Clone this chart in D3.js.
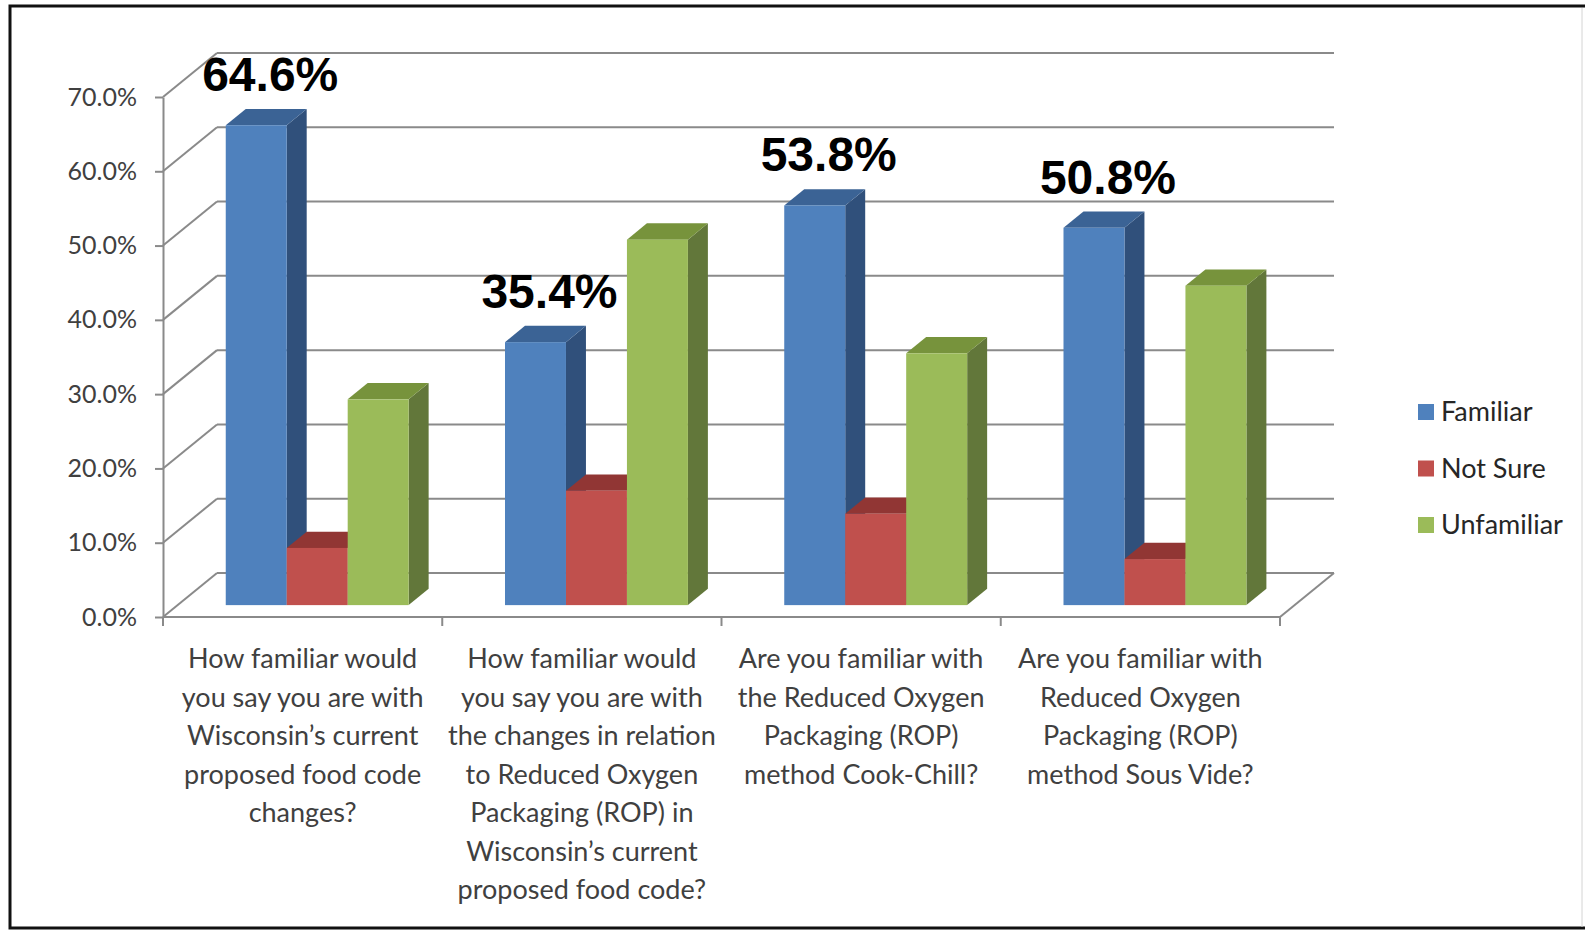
<!DOCTYPE html>
<html>
<head>
<meta charset="utf-8">
<script src="https://cdn.jsdelivr.net/npm/d3@7"></script>
<style>
  body { margin: 0; background: #fff; }
  svg { display: block; }
  .tick-label, .cat-label, .legend-label { font-family: Lato, "Open Sans", sans-serif; }
  .value-label { font-family: "Liberation Sans", Arial, sans-serif; font-weight: bold; }
</style>
</head>
<body>
<div id="chart"></div>
<script>

// Survey questions (category labels, already wrapped)
var categories = ['q1', 'q2', 'q3', 'q4'];
var categoryLines = [
  ['How familiar would', 'you say you are with', 'Wisconsin\u2019s current', 'proposed food code', 'changes?'],
  ['How familiar would', 'you say you are with', 'the changes in relation', 'to Reduced Oxygen', 'Packaging (ROP) in', 'Wisconsin\u2019s current', 'proposed food code?'],
  ['Are you familiar with', 'the Reduced Oxygen', 'Packaging (ROP)', 'method Cook-Chill?'],
  ['Are you familiar with', 'Reduced Oxygen', 'Packaging (ROP)', 'method Sous Vide?']
];

var seriesNames = ['Familiar', 'Not Sure', 'Unfamiliar'];
var familiar = [64.6, 35.4, 53.8, 50.8];
var notSure = [7.7, 15.4, 12.3, 6.2];
var unfamiliar = [27.7, 49.2, 33.9, 43.0];
var yTicks = [0, 10, 20, 30, 40, 50, 60, 70];

var frontColor = ['#4F81BD', '#C0504D', '#9BBB59'];
var topColor = ['#3B6395', '#913634', '#77933C'];
var sideColor = ['#30507B', '#8A3634', '#62773A'];

var width = 1585,
    height = 932;

var svg = d3.select('#chart')
            .append('svg')
            .attr('width', width)
            .attr('height', height);

// frame
svg.append('rect')
   .attr('x', 0).attr('y', 0)
   .attr('width', width).attr('height', height)
   .attr('fill', '#fff');

svg.append('path')
   .attr('d', 'M1585,6 L10,6 L10,928 L1585,928')
   .attr('fill', 'none')
   .attr('stroke', '#111')
   .attr('stroke-width', 3);

svg.append('line')
   .attr('x1', 1582).attr('x2', 1582)
   .attr('y1', 8).attr('y2', 927)
   .attr('stroke', '#d4d4d4')
   .attr('stroke-width', 1);

// 3d depth of the plot box
var depthX = 54,
    depthY = -44;
var barFront = 0.27,
    barBack = 0.64;

var y = d3.scaleLinear()
          .domain([0, 70])
          .range([617, 97]);

var x0 = d3.scaleBand()
           .domain(categories)
           .range([163, 1280]);

var x1 = d3.scaleBand()
           .domain(seriesNames)
           .range([0, x0.bandwidth()])
           .paddingOuter(0.79);

var gridColor = '#8a8a8a';

// side wall diagonals and back wall gridlines
var grid = svg.append('g');

grid.selectAll('.diag')
    .data(yTicks)
    .enter().append('line')
    .attr('x1', x0.range()[0])
    .attr('y1', function(d) { return y(d); })
    .attr('x2', x0.range()[0] + depthX)
    .attr('y2', function(d) { return y(d) + depthY; })
    .attr('stroke', gridColor)
    .attr('stroke-width', 2);

grid.selectAll('.back')
    .data(yTicks)
    .enter().append('line')
    .attr('x1', x0.range()[0] + depthX)
    .attr('y1', function(d) { return y(d) + depthY; })
    .attr('x2', x0.range()[1] + depthX)
    .attr('y2', function(d) { return y(d) + depthY; })
    .attr('stroke', gridColor)
    .attr('stroke-width', 2);

// right edge of floor
grid.append('line')
    .attr('x1', x0.range()[1])
    .attr('y1', y(0))
    .attr('x2', x0.range()[1] + depthX)
    .attr('y2', y(0) + depthY)
    .attr('stroke', gridColor)
    .attr('stroke-width', 2);

// y axis
var y_axis = d3.axisLeft(y)
               .tickValues(yTicks)
               .tickFormat(function(d) { return d.toFixed(1) + '%'; })
               .tickSizeInner(8)
               .tickSizeOuter(0)
               .tickPadding(18);

var gy = svg.append('g')
            .attr('transform', 'translate(' + x0.range()[0] + ',0)')
            .call(y_axis);

gy.select('.domain').attr('stroke', gridColor).attr('stroke-width', 2);
gy.selectAll('.tick line').attr('stroke', gridColor).attr('stroke-width', 2);
gy.selectAll('.tick text')
  .attr('class', 'tick-label')
  .attr('fill', '#404040')
  .style('font-size', '25px');

// x axis: front floor edge with ticks at category boundaries
var boundaries = categories.map(function(c) { return x0(c); }).concat([x0.range()[1]]);

svg.append('line')
   .attr('x1', x0.range()[0]).attr('x2', x0.range()[1])
   .attr('y1', y(0)).attr('y2', y(0))
   .attr('stroke', gridColor)
   .attr('stroke-width', 2);

svg.selectAll('.xtick')
   .data(boundaries)
   .enter().append('line')
   .attr('x1', function(d) { return d; })
   .attr('x2', function(d) { return d; })
   .attr('y1', y(0))
   .attr('y2', y(0) + 9)
   .attr('stroke', gridColor)
   .attr('stroke-width', 2);

// category labels
var catLabels = svg.selectAll('.cat-label')
   .data(categories)
   .enter().append('text')
   .attr('class', 'cat-label')
   .attr('text-anchor', 'middle')
   .attr('fill', '#404040')
   .style('font-size', '27px');

catLabels.each(function(c, i) {
  var t = d3.select(this);
  categoryLines[i].forEach(function(line, j) {
    t.append('tspan')
     .attr('x', x0(c) + x0.bandwidth() / 2)
     .attr('y', y(0) + 51 + j * 38.5)
     .text(line);
  });
});

// bars
var values = [familiar, notSure, unfamiliar];
var fx = barFront * depthX,
    fy = barFront * depthY,
    bx = (barBack - barFront) * depthX,
    by = (barBack - barFront) * depthY;

var bars = [];
categories.forEach(function(c, i) {
  seriesNames.forEach(function(s, k) {
    bars.push({cat: c, series: s, k: k, value: values[k][i]});
  });
});

var barG = svg.selectAll('.bar')
              .data(bars)
              .enter().append('g')
              .attr('class', 'bar');

barG.each(function(d) {
  var g = d3.select(this);
  var left = x0(d.cat) + x1(d.series) + fx,
      right = left + x1.bandwidth(),
      top = y(d.value) + fy,
      bottom = y(0) + fy;

  g.append('polygon')
   .attr('points', [[right, top], [right + bx, top + by], [right + bx, bottom + by], [right, bottom]].join(' '))
   .attr('fill', sideColor[d.k]);

  g.append('polygon')
   .attr('points', [[left, top], [left + bx, top + by], [right + bx, top + by], [right, top]].join(' '))
   .attr('fill', topColor[d.k]);

  g.append('rect')
   .attr('x', left)
   .attr('y', top)
   .attr('width', right - left)
   .attr('height', bottom - top)
   .attr('fill', frontColor[d.k]);
});

// value labels on the Familiar bars
svg.selectAll('.value-label')
   .data(familiar)
   .enter().append('text')
   .attr('class', 'value-label')
   .attr('text-anchor', 'middle')
   .attr('x', function(d, i) { return x0(categories[i]) + x1('Familiar') + fx + x1.bandwidth() / 2 + 14; })
   .attr('y', function(d) { return y(d) + fy - 34; })
   .style('font-size', '48px')
   .attr('fill', '#000')
   .text(function(d) { return d.toFixed(1) + '%'; });

// legend
var legend = svg.selectAll('.legend')
                .data(seriesNames)
                .enter().append('g')
                .attr('class', 'legend')
                .attr('transform', function(d, i) { return 'translate(1418,' + (412 + i * 56.5) + ')'; });

legend.append('rect')
      .attr('x', 0).attr('y', -8)
      .attr('width', 16).attr('height', 16)
      .attr('fill', function(d, i) { return frontColor[i]; });

legend.append('text')
      .attr('class', 'legend-label')
      .attr('x', 23)
      .attr('dy', '0.35em')
      .attr('fill', '#262626')
      .style('font-size', '27px')
      .text(function(d) { return d; });

</script>
</body>
</html>
